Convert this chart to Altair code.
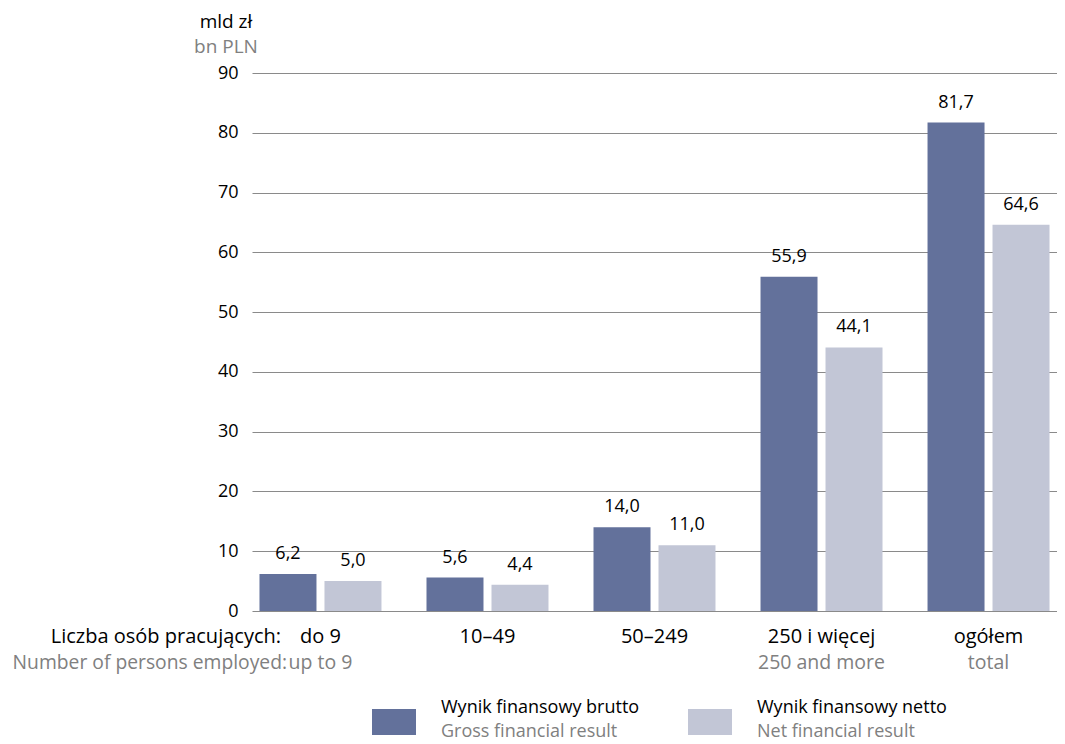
import altair as alt
import pandas as pd

categories_pl = ["do 9", "10–49", "50–249", "250 i więcej", "ogółem"]
categories_en = ["up to 9", "", "", "250 and more", "total"]
series_pl = ["Wynik finansowy brutto", "Wynik finansowy netto"]
series_en = ["Gross financial result", "Net financial result"]
gross = [6.2, 5.6, 14.0, 55.9, 81.7]
net = [5.0, 4.4, 11.0, 44.1, 64.6]
colors = ["#63719b", "#c2c6d6"]

FONT = "Open Sans"
FS = 18
GRAY = "#808080"
W, H = 805, 538

rows = []
for i, c in enumerate(categories_pl):
    rows.append({"cat": c, "series": series_pl[0], "value": gross[i]})
    rows.append({"cat": c, "series": series_pl[1], "value": net[i]})
df = pd.DataFrame(rows)

xscale = alt.Scale(domain=categories_pl, paddingInner=0.24, paddingOuter=0.03)
xoff = alt.XOffset("series:N", sort=series_pl,
                   scale=alt.Scale(paddingInner=0.123, paddingOuter=0.038))

base = alt.Chart(df)

bars = base.mark_bar().encode(
    x=alt.X("cat:N", sort=categories_pl, scale=xscale, axis=None),
    xOffset=xoff,
    y=alt.Y("value:Q", scale=alt.Scale(domain=[0, 90]),
            axis=alt.Axis(values=list(range(0, 100, 10)), title=None, domain=False, ticks=False,
                          labelFont=FONT, labelFontSize=FS, labelColor="#000", labelPadding=14,
                          gridColor="#8a8a8a", gridWidth=1.2)),
    color=alt.Color("series:N", scale=alt.Scale(domain=series_pl, range=colors), legend=None),
)

labels = base.transform_calculate(
    lab="replace(format(datum.value, '.1f'), '.', ',')"
).mark_text(font=FONT, fontSize=FS, baseline="bottom", dy=-11, color="#000").encode(
    x=alt.X("cat:N", sort=categories_pl, scale=xscale, axis=None),
    xOffset=xoff,
    y=alt.Y("value:Q"),
    text="lab:N",
)

cat_df = pd.DataFrame({"cat": categories_pl, "en": categories_en})
cat_pl = alt.Chart(cat_df).mark_text(font=FONT, fontSize=20, baseline="middle", color="#000").encode(
    x=alt.X("cat:N", sort=categories_pl, scale=xscale, axis=None),
    y=alt.value(H + 26),
    text="cat:N",
)
cat_en = alt.Chart(cat_df).mark_text(font=FONT, fontSize=19.5, baseline="middle", color=GRAY).encode(
    x=alt.X("cat:N", sort=categories_pl, scale=xscale, axis=None),
    y=alt.value(H + 52),
    text="en:N",
)

ann_df = pd.DataFrame({"t": [0]})
def txt(s, x, y, color, align="center", size=20):
    return alt.Chart(ann_df).mark_text(font=FONT, fontSize=size, baseline="middle", align=align,
                                       color=color, text=s).encode(x=alt.value(x), y=alt.value(y))

annots = [
    txt("Liczba osób pracujących:", 29, H + 26, "#000", "right", 20),
    txt("Number of persons employed:", 35, H + 52, GRAY, "right", 19.3),
    txt("mld zł", -26, -51, "#000", size=19),
    txt("bn PLN", -26, -26, GRAY, size=19),
]

legend_layers = []
leg_x = [120, 436]
for i in range(2):
    legend_layers.append(
        alt.Chart(ann_df).mark_rect(color=colors[i]).encode(
            x=alt.value(leg_x[i]), x2=alt.value(leg_x[i] + 44),
            y=alt.value(H + 98), y2=alt.value(H + 124))
    )
    legend_layers.append(txt(series_pl[i], leg_x[i] + 69, H + 97, "#000", "left", 18))
    legend_layers.append(txt(series_en[i], leg_x[i] + 69, H + 121, GRAY, "left", 18))

chart = alt.layer(bars, labels, cat_pl, cat_en, *annots, *legend_layers).properties(
    width=W, height=H,
    autosize=alt.AutoSizeParams(type="none"),
    padding={"left": 244, "top": 65, "right": 0, "bottom": 133},
    background="white",
).configure_view(stroke=None)

chart.save("out.html", embed_options={"renderer": "svg", "actions": False})
